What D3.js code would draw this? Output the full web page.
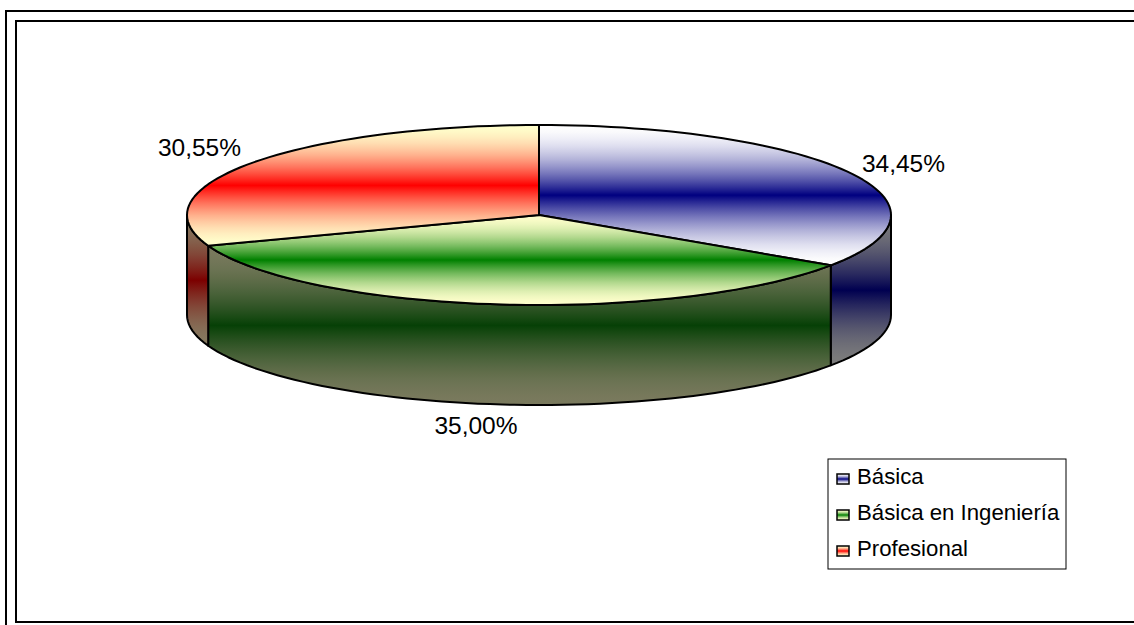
<!DOCTYPE html>
<html>
<head>
<meta charset="utf-8">
<script src="https://cdn.jsdelivr.net/npm/d3@7"></script>
<style>
html,body{margin:0;padding:0;background:#fff;}
svg{display:block;}
text{font-family:"Liberation Sans",Arial,sans-serif;fill:#000;}
</style>
</head>
<body>
<svg id="chart" width="1134" height="625"></svg>
<script>
const categories = ["Básica", "Básica en Ingeniería", "Profesional"];
const shares = [34.45, 35.00, 30.55];
const shareLabels = ["34,45%", "35,00%", "30,55%"];
const topMid = ["#000080", "#008000", "#ff0000"];
const topEdge = ["#ffffff", "#ffffcc", "#ffffcc"];
const sideMid = ["#000050", "#064006", "#7c0000"];
const sideEdge = ["#7c7c7c", "#7a7a5e", "#867a60"];

const svg = d3.select("#chart");
const defs = svg.append("defs");

// Tilted disc: unit coordinates mapped through linear scales
const cx = 539, cy = 215, rx = 352, ry = 90, depth = 100;
const xs = d3.scaleLinear().domain([-1, 1]).range([cx - rx, cx + rx]);
const ys = d3.scaleLinear().domain([-1, 1]).range([cy + ry, cy - ry]);

const arcs = d3.pie().sort(null).value(d => d)(shares);
const rim = (a, dy = 0) => [xs(Math.sin(a)), ys(Math.cos(a)) + dy];
const sampled = (a0, a1) => {
  const n = Math.max(2, Math.ceil((a1 - a0) / (2 * Math.PI) * 180));
  return d3.range(n + 1).map(i => a0 + (a1 - a0) * i / n);
};
const line = d3.line();

// Vertical band: pale at both ends, tightening into a saturated centre line
function bandGradient(id, y0, y1, edge, mid) {
  const g = defs.append("linearGradient").attr("id", id)
    .attr("gradientUnits", "userSpaceOnUse")
    .attr("x1", 0).attr("x2", 0).attr("y1", y0).attr("y2", y1);
  const mix = d3.interpolateRgb(edge, mid);
  d3.range(0, 21).forEach(k => {
    const o = k / 20;
    const t = Math.pow(1 - Math.abs(2 * o - 1), 1.7);
    g.append("stop").attr("offset", o).attr("stop-color", mix(t));
  });
}

// Frame
const frame = svg.append("g").attr("fill", "none").attr("stroke", "#000").attr("stroke-width", 2);
frame.append("path").attr("d", "M6,625V11H1134");
frame.append("path").attr("d", "M16,623V21H1134");
frame.append("path").attr("d", "M15,622H1134");

// Side walls: only the part of each slice that faces the viewer
const front0 = Math.PI / 2, front1 = Math.PI * 3 / 2;
const walls = svg.append("g");
arcs.forEach((d, i) => {
  const a0 = Math.max(d.startAngle, front0), a1 = Math.min(d.endAngle, front1);
  if (a1 <= a0) {
    return;
  }
  const pts = sampled(a0, a1);
  const upper = pts.map(a => rim(a));
  const lower = pts.slice().reverse().map(a => rim(a, depth));
  const all = upper.concat(lower);
  const [y0, y1] = d3.extent(all, p => p[1]);
  bandGradient("side" + i, y0, y1, sideEdge[i], sideMid[i]);
  walls.append("path")
    .attr("d", line(all) + "Z")
    .attr("fill", `url(#side${i})`)
    .attr("stroke", "#000").attr("stroke-width", 2).attr("stroke-linejoin", "round");
});

// Top faces
const tops = svg.append("g");
arcs.forEach((d, i) => {
  const pts = [[xs(0), ys(0)]].concat(sampled(d.startAngle, d.endAngle).map(a => rim(a)));
  const [y0, y1] = d3.extent(pts, p => p[1]);
  bandGradient("top" + i, y0, y1, topEdge[i], topMid[i]);
  tops.append("path")
    .attr("d", line(pts) + "Z")
    .attr("fill", `url(#top${i})`)
    .attr("stroke", "#000").attr("stroke-width", 2).attr("stroke-linejoin", "round");
});

// Value labels sit just outside the rim
const labelPos = [[903.5, 172], [476, 434], [199.5, 156]];
svg.append("g").selectAll("text").data(shareLabels).join("text")
  .attr("x", (d, i) => labelPos[i][0])
  .attr("y", (d, i) => labelPos[i][1])
  .attr("text-anchor", "middle")
  .attr("font-size", 24.5)
  .text(d => d);

// Legend
const legend = svg.append("g");
legend.append("rect").attr("x", 828).attr("y", 459).attr("width", 238).attr("height", 110)
  .attr("fill", "#fff").attr("stroke", "#000").attr("stroke-width", 1);
const rowY = d3.scalePoint().domain(categories).range([479, 551]);
categories.forEach((c, i) => {
  const y = rowY(c);
  bandGradient("key" + i, y - 5, y + 5, topEdge[i], topMid[i]);
  legend.append("rect").attr("x", 837).attr("y", y - 5).attr("width", 12).attr("height", 10)
    .attr("fill", `url(#key${i})`).attr("stroke", "#000").attr("stroke-width", 1.5);
  legend.append("text").attr("x", 857).attr("y", y + 5).attr("font-size", 22.2).text(c);
});
</script>
</body>
</html>
